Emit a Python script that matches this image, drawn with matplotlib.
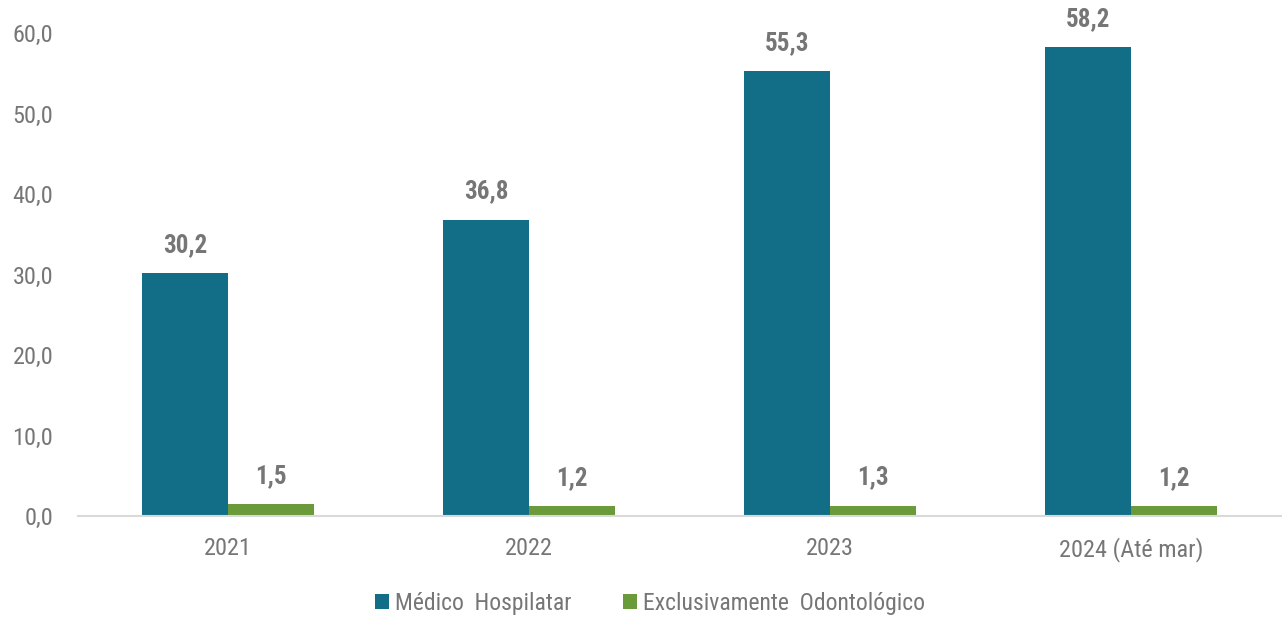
import matplotlib
matplotlib.use("Agg")
import matplotlib.pyplot as plt
import numpy as np

plt.rcParams['font.family'] = ['Liberation Sans Narrow', 'Roboto Condensed', 'DejaVu Sans']
plt.rcParams['font.stretch'] = 'condensed'

anos = ["2021", "2022", "2023", "2024 (Até mar)"]
medico = [30.2, 36.8, 55.3, 58.2]
odonto = [1.5, 1.2, 1.3, 1.2]

azul = "#126E87"
verde = "#6A9A3A"
cinza = "#767676"

fig = plt.figure(figsize=(12.82, 6.17), dpi=100)
ax = fig.add_axes([0.0605, 0.1637, 0.9391, 0.7828])

x = np.arange(len(anos))
w = 0.286
b1 = ax.bar(x - w / 2, medico, w, color=azul, label="Médico  Hospilatar")
b2 = ax.bar(x + w / 2, odonto, w, color=verde, label="Exclusivamente  Odontológico")

for bars, vals in ((b1, medico), (b2, odonto)):
    for r, v in zip(bars, vals):
        ax.text(r.get_x() + r.get_width() / 2, v + 2.0, f"{v:.1f}".replace(".", ","),
                ha="center", va="bottom", fontsize=18, fontweight="bold", color=cinza, clip_on=False)

ax.set_xlim(-0.5, len(anos) - 0.5)
ax.set_ylim(0, 60)
ax.set_yticks(np.arange(0, 61, 10))
ax.set_yticklabels([f"{t:.1f}".replace(".", ",") for t in np.arange(0, 61, 10)])
ax.set_xticks(x)
ax.set_xticklabels(anos)
ax.tick_params(axis="both", length=0, labelsize=17.5, labelcolor=cinza)
ax.tick_params(axis="x", pad=15)
ax.tick_params(axis="y", pad=17.5)
for s in ("top", "right", "left"):
    ax.spines[s].set_visible(False)
ax.spines["bottom"].set_color("#D9D9D9")
ax.spines["bottom"].set_linewidth(1.5)

leg = fig.legend(loc="center", bbox_to_anchor=(0.507, 0.022), ncol=2, frameon=False,
                 fontsize=17, handlelength=0.6, handleheight=0.6, handletextpad=0.25,
                 columnspacing=2.2)
for t in leg.get_texts():
    t.set_color(cinza)

fig.savefig("out.png", dpi=100)
